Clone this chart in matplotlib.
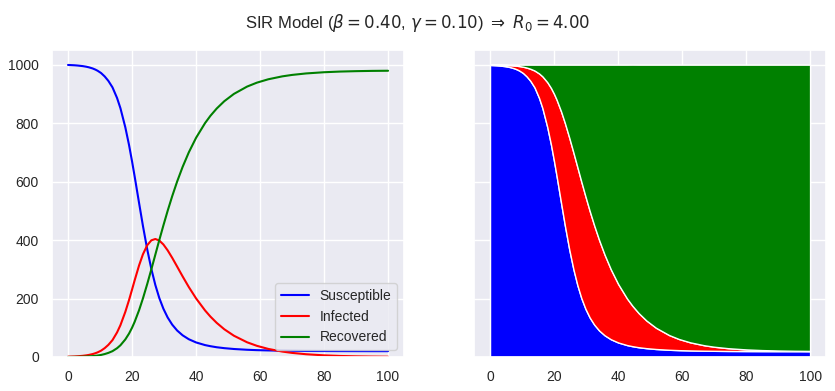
import matplotlib
matplotlib.use("Agg")
import matplotlib.pyplot as plt
import seaborn as sns

# Values (time in days, population counts)
days = [0, 2, 3, 4.62, 5.68, 6.49, 7.68, 8.55, 9.24, 10.32, 11.45, 12.60, 13.9,
        15.32, 16.37, 17.90, 19.06, 20.00, 20.81, 22.20, 23.40, 24.76, 26.04,
        27.28, 28.52, 29.80, 31.13, 32.55, 34.09, 35.80, 37.74, 40.02, 42.81,
        44.49, 46.46, 48.83, 51.84, 55.95, 59.0, 62.57, 66.96, 70.0, 74.41,
        80, 85, 90, 95, 100]
susceptible = [999, 997.9, 997.0, 995.0, 993.0, 991.0, 987.1, 983.1, 979.2, 971.4,
               959.8, 944.6, 922.2, 886.0, 851.3, 785.8, 725.4, 669.6, 618.2, 526.8,
               448.9, 367.5, 300.9, 246.4, 201.7, 165.1, 135.2, 110.7, 90.6, 74.2,
               60.7, 49.7, 40.7, 36.9, 33.3, 30.2, 27.3, 24.7, 23.4, 22.4, 21.5,
               21.1, 20.6, 20.3, 20.1, 20.0, 19.9, 19.9]
infected = [1, 1.8, 2.5, 4.0, 5.5, 7.0, 9.9, 12.9, 15.8, 21.6, 30.2, 41.4, 57.8,
            84.0, 108.7, 154.2, 194.6, 230.4, 261.8, 313.2, 351.1, 382.5, 399.1,
            403.6, 398.3, 384.9, 364.8, 339.3, 309.4, 275.8, 239.3, 200.3, 159.3,
            138.2, 116.7, 94.8, 72.7, 50.3, 38.2, 27.6, 18.5, 14.0, 9.4, 5.6, 3.5,
            2.2, 1.4, 0.9]
recovered = [0, 0.3, 0.5, 1, 1.5, 2, 3, 4, 5, 7, 10, 14, 20, 30, 40, 60, 80, 100,
             120, 160, 200, 250, 300, 350, 400, 450, 500, 550, 600, 650, 700, 750,
             800, 825, 850, 875, 900, 925, 938.4, 950, 960, 964.9, 970, 974.1,
             976.4, 977.8, 978.7, 979.2]
labels = ["Susceptible", "Infected", "Recovered"]
colors = ["blue", "red", "green"]
x_ticks = [0, 20, 40, 60, 80, 100]
y_ticks = [0, 200, 400, 600, 800, 1000]

sns.set_theme(style="darkgrid")
plt.rcParams["font.family"] = ["Liberation Sans", "DejaVu Sans"]

fig = plt.figure(figsize=(8.35, 3.91), dpi=100)
ax1 = fig.add_axes([0.0623, 0.087, 0.4216, 0.785])
ax2 = fig.add_axes([0.5677, 0.087, 0.4216, 0.785], sharey=ax1)

for series, lab, col in zip([susceptible, infected, recovered], labels, colors):
    ax1.plot(days, series, color=col, lw=1.5, label=lab)
ax1.legend(loc="lower right", fontsize=10)

ax2.stackplot(days, susceptible, infected, recovered, colors=colors,
              edgecolor="white", linewidth=1)

for ax in (ax1, ax2):
    ax.set_xticks(x_ticks)
    ax.tick_params(labelsize=10)
ax1.set_yticks(y_ticks)
ax1.set_ylim(0, 1050)
plt.setp(ax2.get_yticklabels(), visible=False)

fig.suptitle(r"SIR Model ($\beta = 0.40$, $\gamma = 0.10$) $\Rightarrow$ $R_0 = 4.00$",
             fontsize=12, y=0.97)

fig.savefig("out.png", dpi=100)
